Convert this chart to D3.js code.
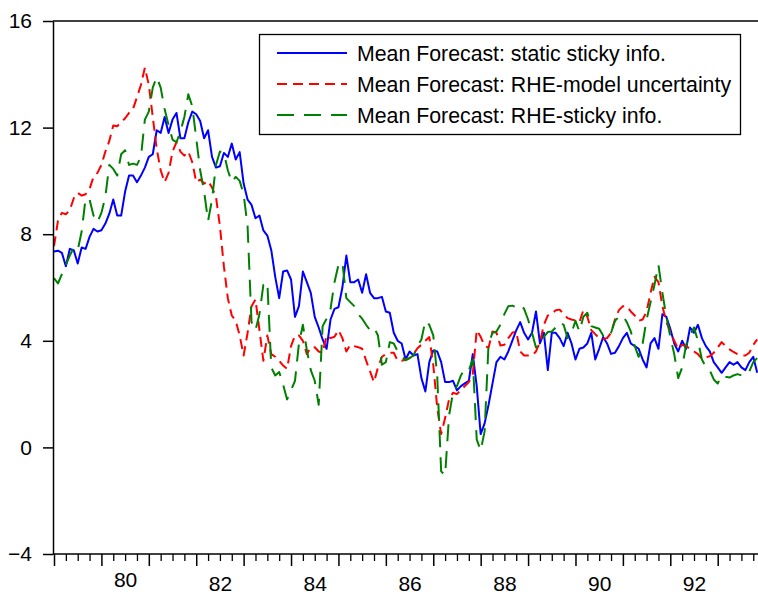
<!DOCTYPE html>
<html>
<head>
<meta charset="utf-8">
<script src="https://cdn.jsdelivr.net/npm/d3@7"></script>
<style>
  html, body { margin: 0; padding: 0; background: #fff; }
  svg { display: block; }
  text { font-family: "Liberation Sans", Arial, Helvetica, sans-serif; fill: #000; }
</style>
</head>
<body>
<svg id="chart" width="758" height="595"></svg>
<script>
// Monthly mean inflation forecasts, starting January 1979
const startYear = 1979;

const staticSticky = [
  7.35, 7.38, 7.3, 6.8, 7.45, 7.4, 6.9, 7.5, 7.45, 7.9, 8.2, 8.1,
  8.15, 8.4, 8.77, 9.3, 8.7, 8.7, 9.6, 10.2, 10.2, 9.95, 10.2, 10.5,
  10.9, 11.0, 11.9, 11.8, 12.4, 11.8, 12.3, 12.55, 11.6, 11.6, 12.2, 12.6,
  12.5, 12.25, 11.6, 11.9, 10.9, 10.5, 10.55, 11.05, 10.9, 11.4, 10.8, 11.08,
  9.9, 9.3, 9.1, 8.6, 8.7, 8.14, 7.95, 7.4, 6.4, 5.6, 6.6, 6.64,
  6.3, 4.9, 5.3, 6.6, 6.2, 5.8, 4.9, 4.5, 4.05, 3.7, 4.8, 5.2,
  5.26, 6.0, 7.2, 6.2, 6.2, 6.3, 5.8, 6.5, 5.8, 5.6, 5.6, 5.65,
  5.1, 5.05, 4.3, 4.0, 3.9, 3.3, 3.6, 3.45, 3.5, 2.6, 2.1, 3.2,
  3.64, 3.6, 3.2, 2.45, 2.45, 2.5, 2.14, 2.3, 2.4, 2.5, 3.5, 2.3,
  0.5, 0.9, 1.6, 2.4, 3.2, 3.4, 3.3, 3.6, 4.0, 4.39, 4.7, 4.3,
  4.05, 4.3, 5.1, 3.9, 4.3, 2.9, 4.3, 4.3, 4.1, 3.8, 4.3, 3.9,
  3.3, 3.7, 3.75, 3.9, 4.3, 3.3, 3.7, 4.14, 3.9, 3.51, 3.55, 3.8,
  4.1, 4.3, 3.9, 3.8, 3.7, 3.3, 3.0, 3.9, 4.1, 3.7, 5.0, 4.9,
  4.45, 3.9, 3.6, 4.0, 3.7, 4.5, 4.3, 4.6, 4.1, 3.8, 3.6, 3.2,
  3.0, 2.8, 3.0, 3.2, 3.1, 3.2, 3.0, 2.9, 3.2, 3.4, 2.8
];

const rheModel = [
  7.55, 8.5, 8.8, 8.75, 8.9, 9.35, 9.55, 9.45, 9.5, 9.7, 10.15, 10.3,
  10.6, 11.1, 11.5, 12.08, 12.05, 12.2, 12.35, 12.55, 12.7, 13.14, 13.6, 14.25,
  13.6, 12.4, 11.2, 10.4, 9.95, 10.3, 11.1, 11.45, 11.1, 10.95, 11.1, 10.7,
  9.95, 10.05, 9.9, 10.0, 9.75, 9.4, 8.3, 6.8, 5.6, 4.95, 4.75, 4.2,
  3.45, 4.3, 5.3, 5.55, 4.4, 3.25, 4.2, 3.5, 3.4, 3.25, 3.07, 2.95,
  3.8, 4.2, 4.2, 4.0, 3.5, 3.75, 3.76, 3.6, 3.55, 4.2, 4.1, 4.15,
  4.4, 4.1, 3.6, 3.85, 3.8, 3.76, 3.7, 3.26, 2.85, 2.45, 3.0, 3.4,
  3.5, 3.55, 3.55, 3.25, 3.25, 3.3, 3.35, 3.5, 3.72, 3.85, 4.0, 4.14,
  3.1, 1.5, 0.5, 1.1, 1.8, 2.05, 2.0, 2.15, 2.3, 2.45, 2.75, 4.4,
  4.15, 3.8, 3.75, 4.35, 4.3, 3.82, 3.85, 4.1, 4.3, 4.35, 3.6, 3.45,
  3.45, 3.45, 3.6, 3.95, 4.6, 4.95, 5.0, 5.15, 5.17, 5.0, 4.85, 4.8,
  4.76, 4.7, 5.15, 4.9, 4.4, 4.25, 4.1, 4.07, 4.1, 4.3, 4.8, 5.15,
  5.3, 5.3, 5.1, 4.95, 4.75, 4.8, 5.1, 5.8, 6.4, 6.2, 5.3, 4.7,
  4.35, 4.0, 3.7, 3.85, 3.8, 3.7, 3.6, 3.5, 3.32, 3.38, 3.42, 3.55,
  3.75, 3.95, 3.8, 3.68, 3.58, 3.5, 3.45, 3.45, 3.55, 3.85, 4.05
];

const rheSticky = [
  6.35, 6.15, 6.5, 6.85, 7.2, 7.5, 7.4, 8.1, 9.35, 9.3, 8.7, 8.45,
  8.8, 9.4, 10.6, 10.45, 10.2, 11.0, 11.15, 10.6, 10.65, 10.6, 10.9, 12.3,
  12.6, 13.5, 13.9, 13.5, 12.7, 12.1, 11.55, 11.45, 11.85, 12.4, 13.25, 12.8,
  11.6, 10.4, 9.6, 8.5, 9.3, 10.6, 11.1, 11.05, 10.4, 9.95, 10.15, 10.0,
  9.5, 8.3, 4.7, 4.4, 5.0, 6.1, 6.2, 3.0, 2.7, 2.83, 2.35, 1.8,
  2.15, 2.5, 3.9, 4.6, 3.65, 2.9, 2.5, 1.6, 4.55, 4.83, 5.2, 6.2,
  6.85, 6.95, 5.6, 5.45, 5.3, 5.0, 4.83, 4.6, 4.4, 4.5, 4.2, 3.1,
  3.2, 3.95, 3.9, 3.6, 3.42, 3.27, 3.35, 3.45, 3.8, 4.05, 4.75, 4.6,
  4.2, 2.7, -0.9, -1.05, 1.2, 2.05, 2.3, 2.7, 2.95, 2.9, 3.3, 0.3,
  -0.12, 0.6, 3.9, 4.3, 4.35, 4.6, 5.0, 5.3, 5.32, 5.26, 5.35, 5.2,
  4.8, 4.3, 3.75, 3.9, 4.15, 4.33, 4.35, 4.5, 4.7, 4.6, 4.1, 4.3,
  4.75, 4.35, 4.9, 5.05, 4.55, 4.5, 4.45, 4.2, 4.1, 4.3, 4.75, 4.9,
  4.95, 4.7, 4.35, 3.8, 3.4, 3.9, 4.8, 5.45, 6.1, 6.85, 5.8, 4.9,
  4.15, 3.5, 2.6, 3.0, 3.85, 4.2, 4.5, 4.0, 3.3, 3.02, 2.89, 2.55,
  2.4, 2.7, 2.65, 2.62, 2.7, 2.75, 2.7, 2.7, 2.85, 3.2, 3.35
];

const seriesNames = [
  "Mean Forecast: static sticky info.",
  "Mean Forecast: RHE-model uncertainty",
  "Mean Forecast: RHE-sticky info."
];
const yTicks = [-4, 0, 4, 8, 12, 16];
const yearLabels = [1980, 1982, 1984, 1986, 1988, 1990, 1992];

const styles = [
  { color: "#0000ff", dash: null },
  { color: "#ff0000", dash: "10,6" },
  { color: "#008000", dash: "17,10" }
];
const allSeries = [staticSticky, rheModel, rheSticky];

const svg = d3.select("#chart");
const plotLeft = 53, plotTop = 21, plotRight = 758, plotBottom = 554;

const x = d3.scaleLinear().domain([1979, 1993.85]).range([54, 758]);
const y = d3.scaleLinear().domain([-4, 16]).range([plotBottom, plotTop]);

svg.append("rect").attr("width", 758).attr("height", 595).attr("fill", "#fff");

svg.append("defs").append("clipPath").attr("id", "plot-clip")
  .append("rect").attr("x", plotLeft).attr("y", plotTop - 2)
  .attr("width", plotRight - plotLeft).attr("height", plotBottom - plotTop + 4);

// series lines
const line = d3.line()
  .x((d, i) => x(startYear + i / 12))
  .y(d => y(d));

const plot = svg.append("g").attr("clip-path", "url(#plot-clip)");
allSeries.forEach((s, k) => {
  plot.append("path")
    .datum(s)
    .attr("fill", "none")
    .attr("stroke", styles[k].color)
    .attr("stroke-width", 2)
    .attr("stroke-linejoin", "round")
    .attr("stroke-dasharray", styles[k].dash)
    .attr("d", line);
});

// top frame line
svg.append("line")
  .attr("x1", plotLeft).attr("x2", plotRight).attr("y1", plotTop).attr("y2", plotTop)
  .attr("stroke", "#000").attr("stroke-width", 1.5);

// y axis
const yAxis = svg.append("g").attr("transform", `translate(${plotLeft},0)`)
  .call(d3.axisLeft(y).tickValues(yTicks).tickSize(10).tickSizeOuter(0).tickPadding(11)
    .tickFormat(d3.format("d")));
yAxis.selectAll("path, line").attr("stroke", "#000").attr("stroke-width", 1.5);
yAxis.selectAll("text").attr("font-size", 21)
  .style("font-family", '"Liberation Sans", Arial, Helvetica, sans-serif');

// x axis: yearly major ticks, quarterly minor ticks
const years = d3.range(1979, 1994);
const quarters = d3.range(1979, 1993.85, 0.25).filter(q => q % 1 !== 0);

const xMinor = svg.append("g").attr("transform", `translate(0,${plotBottom})`)
  .call(d3.axisBottom(x).tickValues(quarters).tickSize(7).tickFormat(""));
xMinor.select(".domain").remove();
xMinor.selectAll("line").attr("stroke", "#000").attr("stroke-width", 1.3);

const xMajor = svg.append("g").attr("transform", `translate(0,${plotBottom})`)
  .call(d3.axisBottom(x).tickValues(years).tickSize(12).tickSizeOuter(0).tickFormat(""));
xMajor.select(".domain").attr("d", `M${plotLeft},0H${plotRight}`);
xMajor.selectAll("path, line").attr("stroke", "#000").attr("stroke-width", 1.5);

const xLabels = svg.append("g").attr("transform", `translate(0,${plotBottom})`)
  .call(d3.axisBottom(x).tickValues(yearLabels.map(v => v + 0.5)).tickSize(0).tickPadding(22)
    .tickFormat(d => String(Math.floor(d) % 100).padStart(2, "0")));
xLabels.select(".domain").remove();
xLabels.selectAll("text").attr("font-size", 21)
  .style("font-family", '"Liberation Sans", Arial, Helvetica, sans-serif')
  .attr("y", (d, i) => i === 0 ? 18 : 22);

// legend
const legend = svg.append("g");
legend.append("rect")
  .attr("x", 259.5).attr("y", 34.5).attr("width", 481).attr("height", 100)
  .attr("fill", "#fff").attr("stroke", "#000").attr("stroke-width", 1.3);
seriesNames.forEach((name, k) => {
  const cy = 53 + k * 31;
  legend.append("line")
    .attr("x1", 277).attr("x2", 347).attr("y1", cy).attr("y2", cy)
    .attr("stroke", styles[k].color).attr("stroke-width", 2)
    .attr("stroke-dasharray", styles[k].dash);
  legend.append("text")
    .attr("x", 357).attr("y", cy).attr("dy", "0.36em")
    .attr("font-size", 21.3)
    .text(name);
});
</script>
</body>
</html>
